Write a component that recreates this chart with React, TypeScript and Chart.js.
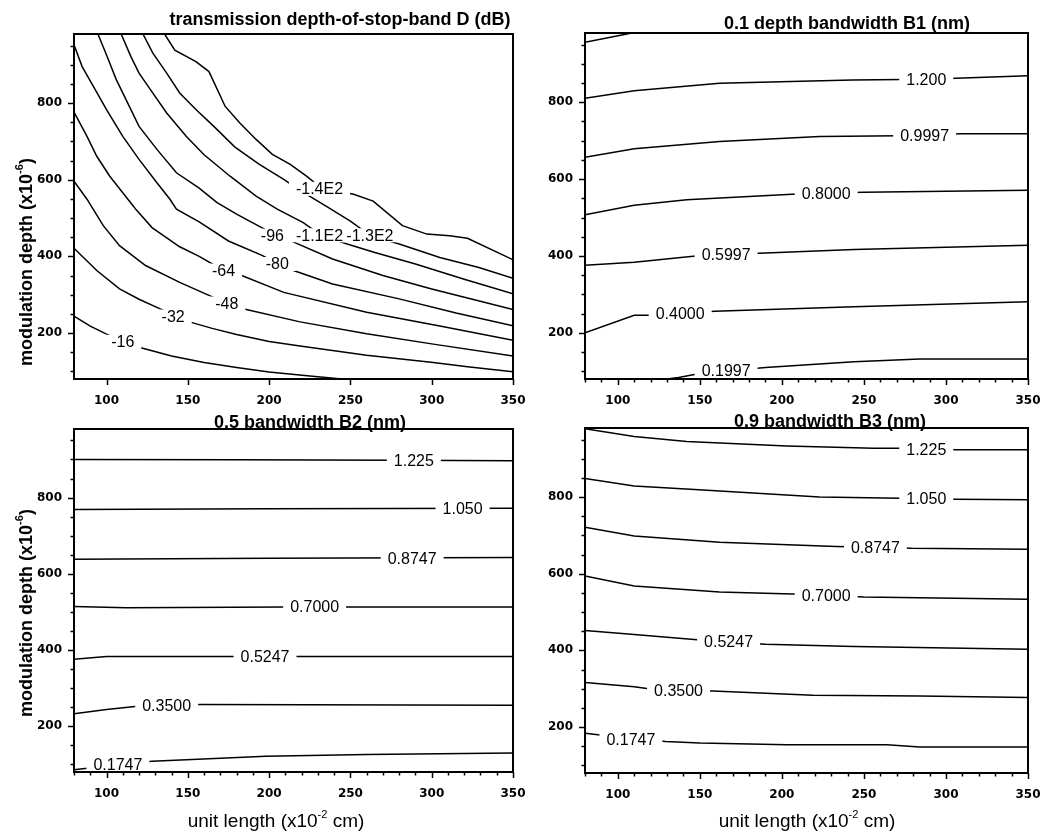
import React, { useEffect, useRef } from "react";
import { Chart, registerables } from "chart.js";
Chart.register(...registerables);

const X_MIN = 80;
const X_MAX = 350;
const Y_MIN = 80;
const Y_MAX = 980;
const X_TICKS = [80, 90, 100, 110, 120, 130, 140, 150, 160, 170, 180, 190, 200, 210, 220, 230, 240, 250, 260, 270, 280, 290, 300, 310, 320, 330, 340, 350];
const Y_TICKS = [100, 150, 200, 250, 300, 350, 400, 450, 500, 550, 600, 650, 700, 750, 800, 850, 900, 950];
const X_TICK_LABELS = [100, 150, 200, 250, 300, 350];
const Y_TICK_LABELS = [200, 400, 600, 800];

// Panel 1: transmission depth-of-stop-band D (dB)
const D_LEVELS = ["-16", "-32", "-48", "-64", "-80", "-96", "-1.1E2", "-1.3E2", "-1.4E2"];
const D_LINES: number[][][] = [
  [[80, 244], [90, 218], [100, 197], [110, 178], [120, 163], [140, 140], [160, 123], [180, 110], [200, 98], [225, 88], [250, 78]],
  [[80, 421], [94, 363], [108, 315], [120, 288], [133, 263], [151, 229], [165, 212], [180, 196], [200, 178], [219, 166], [260, 142], [301, 123], [322, 112], [350, 99]],
  [[80, 596], [88, 549], [98, 480], [108, 428], [124, 376], [145, 332], [163, 298], [174, 278], [184, 263], [219, 229], [260, 198], [301, 171], [350, 140]],
  [[80, 776], [88, 713], [94, 661], [102, 609], [110, 566], [118, 523], [128, 475], [145, 425], [157, 400], [172, 363], [182, 352], [209, 306], [260, 254], [305, 218], [350, 181]],
  [[80, 952], [85, 895], [92, 843], [100, 783], [110, 713], [120, 653], [131, 592], [139, 549], [143, 523], [157, 490], [175, 440], [196, 402], [205, 380], [215, 363], [239, 328], [280, 289], [315, 252], [350, 219]],
  [[94.7, 980], [100, 925], [106, 861], [112, 809], [120, 739], [131, 679], [143, 618], [157, 578], [168, 540], [180, 510], [194, 478], [203, 458], [212, 443], [239, 393], [270, 350], [300, 315], [325, 288], [350, 261]],
  [[109, 980], [115, 921], [120, 878], [127, 835], [137, 774], [149, 713], [160, 665], [176, 609], [192, 557], [205, 523], [221, 488], [232, 455], [248, 432], [265, 410], [290, 380], [320, 340], [350, 302]],
  [[122.4, 980], [128.5, 930], [137, 878], [145, 826], [155, 783], [166, 739], [179, 685], [194, 640], [209, 601], [219, 572], [235, 531], [250, 492], [262, 455], [280, 432], [305, 397], [329, 371], [350, 343]],
  [[135.7, 980], [142, 938], [155, 908], [163, 882], [173, 791], [182, 748], [192, 705], [202, 666], [213, 640], [223, 609], [232, 578], [252, 562], [264, 544], [282, 480], [297, 458], [311, 454], [322, 447], [351, 389]],
];
const D_LABEL_AT = [[110, 177], [141, 243], [174, 277], [172, 363], [205, 380], [202, 454], [231, 455], [262, 455], [231, 576]];

// Panel 2: 0.1 depth bandwidth B1 (nm)
const B1_LEVELS = ["", "1.200", "0.9997", "0.8000", "0.5997", "0.4000", "0.1997"];
const B1_LINES: number[][][] = [
  [[80, 956], [111, 982]],
  [[80, 810], [110, 830], [162, 849], [243, 858], [288, 860], [306, 862], [350, 869]],
  [[80, 657], [110, 679], [162, 698], [223, 711], [272, 713], [309, 718], [350, 718]],
  [[80, 507], [110, 532], [142, 546], [212, 562], [250, 566], [350, 571]],
  [[80, 376], [110, 384], [152, 402], [190, 408], [244, 417], [350, 428]],
  [[80, 200], [110, 246], [121, 246], [159, 256], [244, 268], [350, 281]],
  [[130, 80], [137, 84], [150, 94], [190, 110], [244, 125], [284, 132], [350, 132]],
];
const B1_LABEL_AT = [[0, 0], [288, 860], [287, 714], [227, 563], [166, 404], [138, 250], [166, 103]];

// Panel 3: 0.5 bandwidth B2 (nm)
const B2_LEVELS = ["1.225", "1.050", "0.8747", "0.7000", "0.5247", "0.3500", "0.1747"];
const B2_LINES: number[][][] = [
  [[80, 900], [180, 899], [280, 898], [350, 897]],
  [[80, 769], [200, 771], [350, 772]],
  [[80, 638], [200, 641], [350, 643]],
  [[80, 514], [112, 511], [210, 513], [350, 513]],
  [[80, 376], [100, 383], [350, 383]],
  [[80, 233], [100, 244], [122, 254], [158, 257], [350, 255]],
  [[80, 86], [107, 99], [128, 108], [198, 121], [260, 126], [350, 130]],
];
const B2_LABEL_AT = [[289, 897], [319, 770], [288, 641], [228, 513], [197.5, 382], [137, 253], [107, 99]];

// Panel 4: 0.9 bandwidth B3 (nm)
const B3_LEVELS = ["1.225", "1.050", "0.8747", "0.7000", "0.5247", "0.3500", "0.1747"];
const B3_LINES: number[][][] = [
  [[80, 978], [110, 958], [142, 945], [203, 933], [256, 927], [272, 927], [306, 923], [350, 923]],
  [[80, 848], [110, 829], [152, 818], [223, 800], [272, 797], [306, 794], [350, 793]],
  [[80, 721], [110, 698], [162, 682], [233, 671], [257, 669], [279, 666], [350, 664]],
  [[80, 594], [110, 568], [162, 552], [212, 546], [250, 539], [350, 533]],
  [[80, 452], [110, 441], [152, 426], [190, 416], [244, 410], [350, 403]],
  [[80, 316], [110, 305], [122, 298], [158, 294], [219, 283], [284, 281], [350, 277]],
  [[80, 184], [92, 178], [129, 162], [150, 158], [203, 154], [264, 154], [284, 148], [350, 148]],
];
const B3_LABEL_AT = [[288, 924], [288, 795], [257, 669], [227, 543], [167.5, 424], [137, 294], [108, 166]];

const Y_TITLE = [{ text: "modulation depth (x10" }, { text: "-6", sup: true }, { text: ")" }];
const X_TITLE = [{ text: "unit length (x10" }, { text: "-2", sup: true }, { text: " cm)" }];

type Panel = {
  title: string;
  levels: string[];
  lines: number[][][];
  labelAt: number[][];
  area: { l: number; r: number; t: number; b: number };
  titlePos: [number, number];
  yTitlePos: [number, number] | null;
  xTitlePos: [number, number] | null;
  minorX: boolean;
};

const PANELS: Panel[] = [
  { title: "transmission depth-of-stop-band D (dB)", levels: D_LEVELS, lines: D_LINES, labelAt: D_LABEL_AT,
    area: { l: 74, r: 513, t: 34, b: 379 }, titlePos: [340, 25], yTitlePos: [27, 262], xTitlePos: null, minorX: false },
  { title: "0.1 depth bandwidth B1 (nm)", levels: B1_LEVELS, lines: B1_LINES, labelAt: B1_LABEL_AT,
    area: { l: 585, r: 1028, t: 33, b: 379 }, titlePos: [847, 29], yTitlePos: null, xTitlePos: null, minorX: true },
  { title: "0.5 bandwidth B2 (nm)", levels: B2_LEVELS, lines: B2_LINES, labelAt: B2_LABEL_AT,
    area: { l: 74, r: 513, t: 429, b: 772 }, titlePos: [310, 428], yTitlePos: [27, 613], xTitlePos: [276, 822], minorX: true },
  { title: "0.9 bandwidth B3 (nm)", levels: B3_LEVELS, lines: B3_LINES, labelAt: B3_LABEL_AT,
    area: { l: 585, r: 1028, t: 428, b: 773 }, titlePos: [830, 427], yTitlePos: null, xTitlePos: [807, 822], minorX: true },
];

const W = 1047;
const H = 836;
const CW = 1120; // canvas wider than the page so label overflow never squeezes the plot area
const YW = 50;
const XH = 40;
const SANS = '"Liberation Sans", Arial, Helvetica, sans-serif';

function drawSupText(ctx: CanvasRenderingContext2D, parts: { text: string; sup?: boolean }[], size: number, weight: string) {
  const base = `${weight} ${size}px ${SANS}`;
  const small = `${weight} ${Math.round(size * 0.6)}px ${SANS}`;
  let total = 0;
  const widths = parts.map((p) => {
    ctx.font = p.sup ? small : base;
    const w = ctx.measureText(p.text).width;
    total += w;
    return w;
  });
  let x = -total / 2;
  ctx.textAlign = "left";
  ctx.textBaseline = "middle";
  parts.forEach((p, i) => {
    ctx.font = p.sup ? small : base;
    ctx.fillText(p.text, x, p.sup ? -size * 0.38 : 0);
    x += widths[i];
  });
}

function makePlugin(cfg: Panel) {
  return {
    id: "contourDecor",
    afterDatasetsDraw(chart: any) {
      const ctx: CanvasRenderingContext2D = chart.ctx;
      const xs = chart.scales.x;
      const ys = chart.scales.y;
      ctx.save();
      ctx.font = `16px ${SANS}`;
      const items = cfg.levels
        .map((t, i) => ({ t, px: xs.getPixelForValue(cfg.labelAt[i][0]), py: ys.getPixelForValue(cfg.labelAt[i][1]) }))
        .filter((it) => it.t !== "");
      ctx.fillStyle = "#fff";
      items.forEach((it) => {
        const w = ctx.measureText(it.t).width;
        ctx.fillRect(it.px - w / 2 - 7, it.py - 7, w + 14, 14);
      });
      ctx.fillStyle = "#000";
      ctx.textAlign = "center";
      ctx.textBaseline = "middle";
      items.forEach((it) => ctx.fillText(it.t, it.px, it.py + 1));
      ctx.restore();
    },
    afterDraw(chart: any) {
      const ctx: CanvasRenderingContext2D = chart.ctx;
      const a = chart.chartArea;
      const xs = chart.scales.x;
      const ys = chart.scales.y;
      ctx.save();
      ctx.strokeStyle = "#000";
      ctx.fillStyle = "#000";
      ctx.lineWidth = 1.5;
      ctx.beginPath();
      xs.ticks.forEach((t: any) => {
        const v = Math.round(t.value);
        const major = v % 50 === 0;
        if (!major && !cfg.minorX) return;
        const px = Math.round(xs.getPixelForValue(v)) + 0.5;
        ctx.moveTo(px, a.bottom);
        ctx.lineTo(px, a.bottom + (major ? 6 : 3.5));
      });
      ys.ticks.forEach((t: any) => {
        const v = Math.round(t.value);
        const major = v % 200 === 0;
        const py = Math.round(ys.getPixelForValue(v)) + 0.5;
        ctx.moveTo(a.left, py);
        ctx.lineTo(a.left - (major ? 6 : 3.5), py);
      });
      ctx.stroke();
      ctx.lineWidth = 2;
      ctx.strokeRect(a.left, a.top, a.right - a.left, a.bottom - a.top);

      ctx.font = `bold 18px ${SANS}`;
      ctx.textAlign = "center";
      ctx.textBaseline = "alphabetic";
      ctx.fillText(cfg.title, cfg.titlePos[0], cfg.titlePos[1]);

      if (cfg.yTitlePos) {
        ctx.save();
        ctx.translate(cfg.yTitlePos[0], cfg.yTitlePos[1]);
        ctx.rotate(-Math.PI / 2);
        drawSupText(ctx, Y_TITLE, 18, "bold");
        ctx.restore();
      }
      if (cfg.xTitlePos) {
        ctx.save();
        ctx.translate(cfg.xTitlePos[0], cfg.xTitlePos[1]);
        drawSupText(ctx, X_TITLE, 19, "normal");
        ctx.restore();
      }
      ctx.restore();
    },
  };
}

function ContourPanel({ cfg }: { cfg: Panel }) {
  const ref = useRef<HTMLCanvasElement>(null);
  useEffect(() => {
    const a = cfg.area;
    const tickFont = { family: '"DejaVu Sans", Verdana, sans-serif', weight: "bold" as const, size: 12 };
    const chart = new Chart(ref.current as HTMLCanvasElement, {
      type: "scatter",
      data: {
        datasets: cfg.lines.map((pts) => ({
          data: pts.map(([x, y]) => ({ x, y })),
          showLine: true,
          borderColor: "#000",
          borderWidth: 1.5,
          pointRadius: 0,
          pointHoverRadius: 0,
          tension: 0,
          fill: false,
        })),
      },
      options: {
        animation: false,
        responsive: false,
        devicePixelRatio: 1,
        events: [],
        layout: { autoPadding: false, padding: { left: a.l - YW, right: CW - a.r, top: a.t, bottom: H - a.b - XH } },
        plugins: { legend: { display: false }, tooltip: { enabled: false }, title: { display: false } },
        scales: {
          x: {
            type: "linear",
            min: X_MIN,
            max: X_MAX,
            afterBuildTicks: (s: any) => { s.ticks = X_TICKS.map((v) => ({ value: v })); },
            afterFit: (s: any) => { s.height = XH; },
            grid: { display: false, drawTicks: false },
            border: { display: false },
            ticks: {
              autoSkip: false,
              maxRotation: 0,
              padding: 15,
              color: "#000",
              font: tickFont,
              callback: (v: any) => (X_TICK_LABELS.includes(Math.round(v)) ? String(Math.round(v)) : ""),
            },
          },
          y: {
            type: "linear",
            min: Y_MIN,
            max: Y_MAX,
            afterBuildTicks: (s: any) => { s.ticks = Y_TICKS.map((v) => ({ value: v })); },
            afterFit: (s: any) => { s.width = YW; },
            grid: { display: false, drawTicks: false },
            border: { display: false },
            ticks: {
              autoSkip: false,
              padding: 12,
              color: "#000",
              font: tickFont,
              callback: (v: any) => (Y_TICK_LABELS.includes(Math.round(v)) ? String(Math.round(v)) : ""),
            },
          },
        },
      },
      plugins: [makePlugin(cfg)],
    } as any);
    return () => chart.destroy();
  }, [cfg]);
  return <canvas ref={ref} width={CW} height={H} style={{ position: "absolute", left: 0, top: 0 }} />;
}

export default function App() {
  return (
    <div style={{ position: "absolute", left: 0, top: 0, width: W, height: H, background: "#fff", overflow: "hidden" }}>
      {PANELS.map((p, i) => (
        <ContourPanel key={i} cfg={p} />
      ))}
    </div>
  );
}
